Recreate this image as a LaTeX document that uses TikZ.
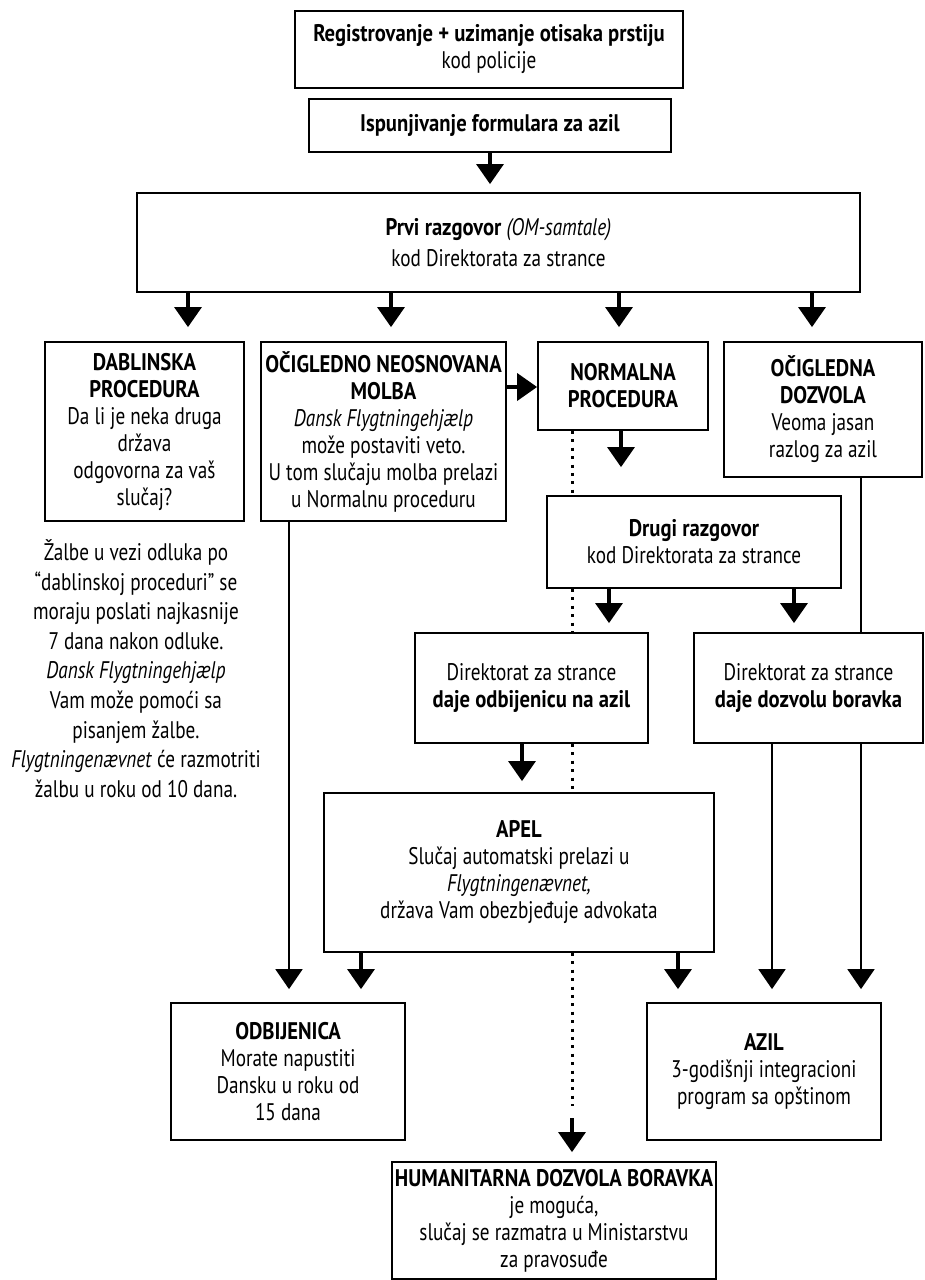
\documentclass[tikz,border=0pt]{standalone}
\usepackage{fontspec}
\setmainfont{PT Sans}[FakeStretch=0.8, BoldFeatures={FakeStretch=0.86}]
\usetikzlibrary{arrows.meta}

\tikzset{
  box/.style={draw, line width=1.8pt, fill=white, align=center, inner sep=2pt,
    font=\fontsize{24}{27}\selectfont},
  arr/.style={line width=3.2pt, -{Triangle[width=27pt,length=20pt]}},
  longarr/.style={line width=2pt, -{Triangle[width=27pt,length=20pt]}},
  lin/.style={line width=2pt},
  dotline/.style={line width=3pt, dash pattern=on 3pt off 5.4pt},
}

\begin{document}
\begin{tikzpicture}[x=1pt, y=-1pt]
\useasboundingbox (0,0) rectangle (925,1280);

\node[box, minimum width=388pt, minimum height=77pt] (Reg) at (489,49.5) {\textbf{Registrovanje + uzimanje otisaka prstiju}\\kod policije};
\node[box, minimum width=362pt, minimum height=53pt] (Form) at (490,125.5) {\textbf{Ispunjivanje formulara za azil}};
\node[box, minimum width=723pt, minimum height=99pt] (Prvi) at (498.5,242.5) {\textbf{Prvi razgovor} \textit{(OM-samtale)}\\[4pt]kod Direktorata za strance};

\node[box, minimum width=199pt, minimum height=179pt] (Dab) at (144.5,431.5) {\textbf{DABLINSKA}\\\textbf{PROCEDURA}\\Da li je neka druga\\država\\odgovorna za vaš\\slučaj?};
\node[box, minimum width=245pt, minimum height=179pt] (Neos) at (383.5,431.5) {\textbf{OČIGLEDNO NEOSNOVANA}\\\textbf{MOLBA}\\\textit{Dansk Flygtningehjælp}\\može postaviti veto.\\U tom slučaju molba prelazi\\u Normalnu proceduru};
\node[box, minimum width=170pt, minimum height=88pt] (Norm) at (623,386) {\textbf{NORMALNA}\\\textbf{PROCEDURA}};
\node[box, minimum width=198pt, minimum height=135pt] (Ocig) at (823,409.5) {\textbf{OČIGLEDNA}\\\textbf{DOZVOLA}\\Veoma jasan\\razlog za azil};

\node[box, minimum width=294pt, minimum height=92pt] (Drugi) at (694,542) {\textbf{Drugi razgovor}\\kod Direktorata za strance};
\node[box, minimum width=233pt, minimum height=110pt] (Odb) at (531.5,688) {Direktorat za strance\\\textbf{daje odbijenicu na azil}};
\node[box, minimum width=229pt, minimum height=110pt] (Doz) at (808.5,688) {Direktorat za strance\\\textbf{daje dozvolu boravka}};
\node[box, minimum width=390pt, minimum height=159pt] (Apel) at (519,872.5) {\textbf{APEL}\\Slučaj automatski prelazi u\\\textit{Flygtningenævnet,}\\država Vam obezbjeđuje advokata};

\node[box, minimum width=234pt, minimum height=137pt] (Odbij) at (288,1071.5) {\textbf{ODBIJENICA}\\Morate napustiti\\Dansku u roku od\\15 dana};
\node[box, minimum width=234pt, minimum height=137pt] (Azil) at (764,1071.5) {\textbf{AZIL}\\3-godišnji integracioni\\program sa opštinom};
\node[box, minimum width=324pt, minimum height=117pt] (Hum) at (554,1220.5) {\textbf{HUMANITARNA DOZVOLA BORAVKA}\\je moguća,\\slučaj se razmatra u Ministarstvu\\za pravosuđe};

\node[align=center, inner sep=0pt, font=\fontsize{24}{29.6}\selectfont] (Zalbe) at (136,668.5) {Žalbe u vezi odluka po\\“dablinskoj proceduri” se\\moraju poslati najkasnije\\7 dana nakon odluke.\\\textit{Dansk Flygtningehjælp}\\Vam može pomoći sa\\pisanjem žalbe.\\\textit{Flygtningenævnet} će razmotriti\\žalbu u roku od 10 dana.};

\coordinate (DotEnd) at (572,1106);
\coordinate (HumIn) at (572,1118);

\draw[arr, shorten >=8pt] (Form) -- (Form |- Prvi.north);
\draw[arr, shorten >=14pt] (Prvi.south -| 188,0) -- (188,0 |- Dab.north);
\draw[arr, shorten >=14pt] (Prvi.south -| 391,0) -- (391,0 |- Neos.north);
\draw[arr, shorten >=14pt] (Prvi.south -| 619,0) -- (619,0 |- Norm.north);
\draw[arr, shorten >=14pt] (Prvi.south -| 812,0) -- (812,0 |- Ocig.north);
\draw[arr, line width=3.8pt] (Neos.east |- 0,387) -- (Norm.west |- 0,387);

\draw[dotline] (Norm.south -| 572,0) -- (572,0 |- Drugi.north);
\draw[dotline] (Drugi.south -| 572,0) -- (572,0 |- Odb.north);
\draw[dotline] (Odb.south -| 572,0) -- (572,0 |- Apel.north);
\draw[dotline] (Apel.south -| 572,0) -- (DotEnd);
\draw[arr, shorten >=9pt] (HumIn) -- (HumIn |- Hum.north);

\draw[arr, shorten >=28pt] (Norm.south -| 621,0) -- (621,0 |- Drugi.north);
\draw[arr, shorten >=9pt] (Drugi.south -| 609,0) -- (609,0 |- Odb.north);
\draw[arr, shorten >=9pt] (Drugi.south -| 794,0) -- (794,0 |- Doz.north);
\draw[lin] (Ocig.south -| 861,0) -- (861,0 |- Doz.north);
\draw[arr, shorten >=11pt] (Odb.south -| 522,0) -- (522,0 |- Apel.north);

\draw[longarr, shorten >=13pt] (Neos.south -| 289,0) -- (289,0 |- Odbij.north);
\draw[arr, shorten >=13pt] (Apel.south -| 361,0) -- (361,0 |- Odbij.north);
\draw[arr, shorten >=13pt] (Apel.south -| 678,0) -- (678,0 |- Azil.north);
\draw[longarr, shorten >=13pt] (Doz.south -| 772,0) -- (772,0 |- Azil.north);
\draw[longarr, shorten >=13pt] (Doz.south -| 861,0) -- (861,0 |- Azil.north);
\end{tikzpicture}
\end{document}
